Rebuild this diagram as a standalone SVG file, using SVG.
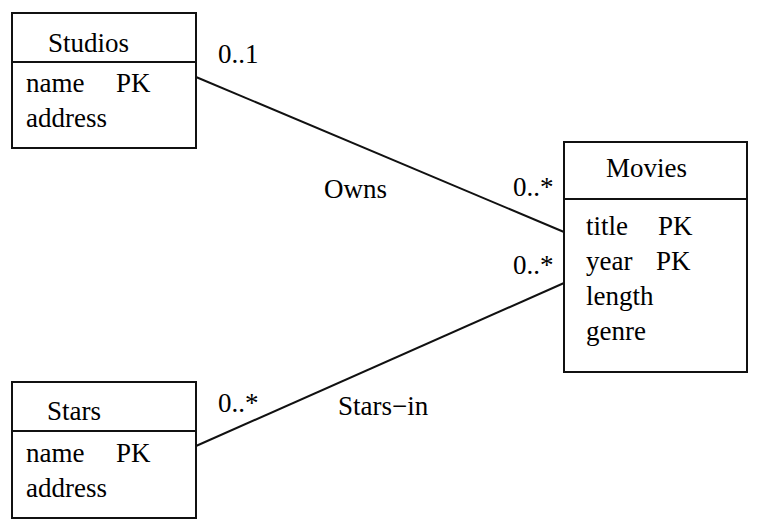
<svg xmlns="http://www.w3.org/2000/svg" width="762" height="530" viewBox="0 0 762 530">
<rect width="762" height="530" fill="#fff"/>
<g id="connectors" stroke="#111" stroke-width="2" fill="none">
<line x1="196" y1="77" x2="564" y2="232"/>
<line x1="196" y1="446" x2="564" y2="283"/>
</g>
<g id="labels">
<text x="218" y="63" font-family="Liberation Serif" font-size="27">0..1</text>
<text x="324" y="198" font-family="Liberation Serif" font-size="27">Owns</text>
<text x="513" y="196" font-family="Liberation Serif" font-size="27">0..*</text>
<text x="513" y="274" font-family="Liberation Serif" font-size="27">0..*</text>
<text x="218" y="412" font-family="Liberation Serif" font-size="27">0..*</text>
<text x="338" y="415" font-family="Liberation Serif" font-size="27">Stars−in</text>
</g>
<g id="studios">
<rect x="12" y="13" width="184" height="135" fill="#fff" stroke="#111" stroke-width="2"/>
<line x1="12" y1="62" x2="196" y2="62" stroke="#111" stroke-width="2"/>
<text x="48" y="52" font-family="Liberation Serif" font-size="27">Studios</text>
<text x="26" y="92" font-family="Liberation Serif" font-size="27">name</text>
<text x="116" y="92" font-family="Liberation Serif" font-size="27">PK</text>
<text x="26" y="127" font-family="Liberation Serif" font-size="27">address</text>
</g>
<g id="movies">
<rect x="564" y="142" width="183" height="230" fill="#fff" stroke="#111" stroke-width="2"/>
<line x1="564" y1="199" x2="747" y2="199" stroke="#111" stroke-width="2"/>
<text x="606" y="177" font-family="Liberation Serif" font-size="27">Movies</text>
<text x="586" y="235" font-family="Liberation Serif" font-size="27">title</text>
<text x="658" y="235" font-family="Liberation Serif" font-size="27">PK</text>
<text x="586" y="270" font-family="Liberation Serif" font-size="27">year</text>
<text x="656" y="270" font-family="Liberation Serif" font-size="27">PK</text>
<text x="586" y="305" font-family="Liberation Serif" font-size="27">length</text>
<text x="586" y="340" font-family="Liberation Serif" font-size="27">genre</text>
</g>
<g id="stars">
<rect x="12" y="382" width="184" height="136" fill="#fff" stroke="#111" stroke-width="2"/>
<line x1="12" y1="431" x2="196" y2="431" stroke="#111" stroke-width="2"/>
<text x="47" y="420" font-family="Liberation Serif" font-size="27">Stars</text>
<text x="26" y="462" font-family="Liberation Serif" font-size="27">name</text>
<text x="116" y="462" font-family="Liberation Serif" font-size="27">PK</text>
<text x="26" y="497" font-family="Liberation Serif" font-size="27">address</text>
</g>
</svg>
